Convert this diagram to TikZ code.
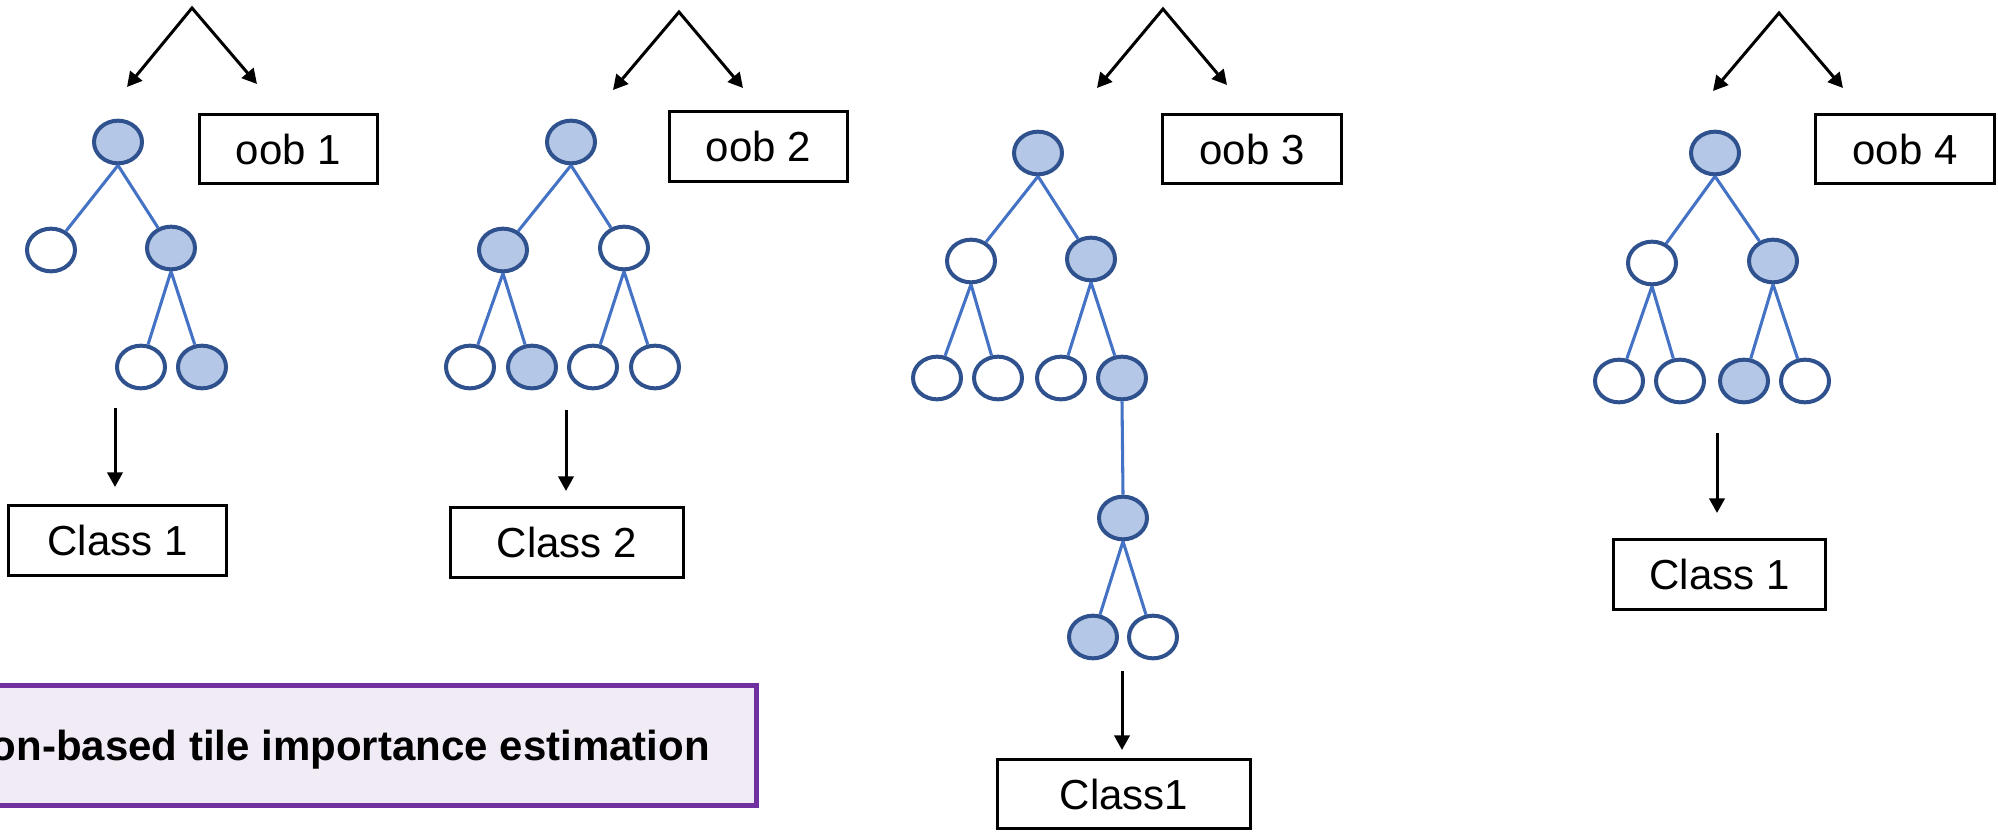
\documentclass[tikz,border=0pt]{standalone}
\usepackage{fontspec}
\setmainfont{Liberation Sans}
\usetikzlibrary{arrows.meta,shapes.geometric}
\definecolor{nodeblue}{HTML}{B4C7E7}
\definecolor{nodeline}{HTML}{2F528F}
\definecolor{edgeblue}{HTML}{4472C4}
\definecolor{bandline}{HTML}{7030A0}
\definecolor{bandfill}{HTML}{F1EBF6}
\tikzset{
  leaf/.style={ellipse, draw=nodeline, line width=3pt, fill=white,
    minimum width=36pt, minimum height=32pt, inner sep=0pt},
  hit/.style={leaf, fill=nodeblue},
  branch/.style={draw=edgeblue, line width=2.3pt},
  tip/.style={Triangle[length=11pt,width=11.5pt]},
  flow/.style={draw=black, line width=2.25pt, -{Triangle[length=11pt,width=11.5pt]}},
  split/.style={draw=black, line width=2.25pt, line join=miter,
    {Triangle[length=11pt,width=11.5pt]}-{Triangle[length=11pt,width=11.5pt]}},
  labelbox/.style={draw=black, line width=2.25pt, rectangle, fill=white,
    minimum height=52pt, inner sep=0pt, font=\fontsize{31.5}{36}\selectfont},
  oobbox/.style={labelbox, minimum width=134pt},
}
\begin{document}
\begin{tikzpicture}[x=0.75pt, y=-0.75pt]
\useasboundingbox (0,0) rectangle (1998,832);
\clip (0,0) rectangle (1998,832);

% ---------- tree 1 ----------
\coordinate (a1) at (192,8);
\coordinate (a1l) at (127,87);
\coordinate (a1r) at (257,84);
\draw[split] (a1l) -- (a1) -- (a1r);
\node[oobbox] (oob1) at (288.5,149) {oob 1};
\node[hit]  (t1r)  at (118,142) {};
\node[leaf] (t1a)  at (51,250) {};
\node[hit]  (t1b)  at (171,248) {};
\node[leaf] (t1ba) at (141,367) {};
\node[hit]  (t1bb) at (202,367) {};
\draw[branch] (t1r.south) -- (t1a);
\draw[branch] (t1r.south) -- (t1b);
\draw[branch] (t1b.south) -- (t1ba);
\draw[branch] (t1b.south) -- (t1bb);
\coordinate (d1s) at (115,408);
\coordinate (d1e) at (115,487);
\draw[flow] (d1s) -- (d1e);
\node[labelbox, minimum width=163.5pt] (c1) at (117.5,540.5) {Class 1};

% ---------- tree 2 ----------
\coordinate (a2) at (679,12);
\coordinate (a2l) at (613,90);
\coordinate (a2r) at (743,88);
\draw[split] (a2l) -- (a2) -- (a2r);
\node[oobbox] (oob2) at (758.5,146.5) {oob 2};
\node[hit]  (t2r)  at (571,142) {};
\node[hit]  (t2a)  at (503,250) {};
\node[leaf] (t2b)  at (624,248) {};
\node[leaf] (t2aa) at (470,367) {};
\node[hit]  (t2ab) at (532,367) {};
\node[leaf] (t2ba) at (593,367) {};
\node[leaf] (t2bb) at (655,367) {};
\draw[branch] (t2r.south) -- (t2a);
\draw[branch] (t2r.south) -- (t2b);
\draw[branch] (t2a.south) -- (t2aa);
\draw[branch] (t2a.south) -- (t2ab);
\draw[branch] (t2b.south) -- (t2ba);
\draw[branch] (t2b.south) -- (t2bb);
\coordinate (d2s) at (566,410);
\coordinate (d2e) at (566,491);
\draw[flow] (d2s) -- (d2e);
\node[labelbox, minimum width=175pt] (c2) at (567,542.5) {Class 2};

% ---------- tree 3 ----------
\coordinate (a3) at (1163,9);
\coordinate (a3l) at (1097,88);
\coordinate (a3r) at (1227,85);
\draw[split] (a3l) -- (a3) -- (a3r);
\node[oobbox] (oob3) at (1252,149) {oob 3};
\node[hit]  (t3r)  at (1038,153) {};
\node[leaf] (t3a)  at (971,261) {};
\node[hit]  (t3b)  at (1091,259) {};
\node[leaf] (t3aa) at (937,378) {};
\node[leaf] (t3ab) at (998,378) {};
\node[leaf] (t3ba) at (1061,378) {};
\node[hit]  (t3bb) at (1122,378) {};
\node[hit]  (t3c)  at (1123,518) {};
\node[hit]  (t3ca) at (1093,637) {};
\node[leaf] (t3cb) at (1153,637) {};
\draw[branch] (t3r.south) -- (t3a);
\draw[branch] (t3r.south) -- (t3b);
\draw[branch] (t3a.south) -- (t3aa);
\draw[branch] (t3a.south) -- (t3ab);
\draw[branch] (t3b.south) -- (t3ba);
\draw[branch] (t3b.south) -- (t3bb);
\draw[branch] (t3bb.south) -- (t3c.north);
\draw[branch] (t3c.south) -- (t3ca);
\draw[branch] (t3c.south) -- (t3cb);
\coordinate (d3s) at (1122,671);
\coordinate (d3e) at (1122,750);
\draw[flow] (d3s) -- (d3e);
\node[labelbox, minimum width=190pt] (c3) at (1124,794) {Class1};

% ---------- tree 4 ----------
\coordinate (a4) at (1779,13);
\coordinate (a4l) at (1713,91);
\coordinate (a4r) at (1843,88);
\draw[split] (a4l) -- (a4) -- (a4r);
\node[oobbox] (oob4) at (1905,149) {oob 4};
\node[hit]  (t4r)  at (1715,153) {};
\node[leaf] (t4a)  at (1652,263) {};
\node[hit]  (t4b)  at (1773,261) {};
\node[leaf] (t4aa) at (1619,381) {};
\node[leaf] (t4ab) at (1680,381) {};
\node[hit]  (t4ba) at (1744,381) {};
\node[leaf] (t4bb) at (1805,381) {};
\draw[branch] (t4r.south) -- (t4a);
\draw[branch] (t4r.south) -- (t4b);
\draw[branch] (t4a.south) -- (t4aa);
\draw[branch] (t4a.south) -- (t4ab);
\draw[branch] (t4b.south) -- (t4ba);
\draw[branch] (t4b.south) -- (t4bb);
\coordinate (d4s) at (1717,433);
\coordinate (d4e) at (1717,513);
\draw[flow] (d4s) -- (d4e);
\node[labelbox, minimum width=159pt] (c4) at (1719.5,574.5) {Class 1};

% ---------- caption band ----------
\draw[draw=bandline, fill=bandfill, line width=3.75pt] (-30,685.5) rectangle (756.5,805.5);
\node[anchor=base east, inner sep=0pt, font=\bfseries\fontsize{31.5}{36}\selectfont]
  (band) at (710,760) {on-based tile importance estimation};
\end{tikzpicture}
\end{document}
